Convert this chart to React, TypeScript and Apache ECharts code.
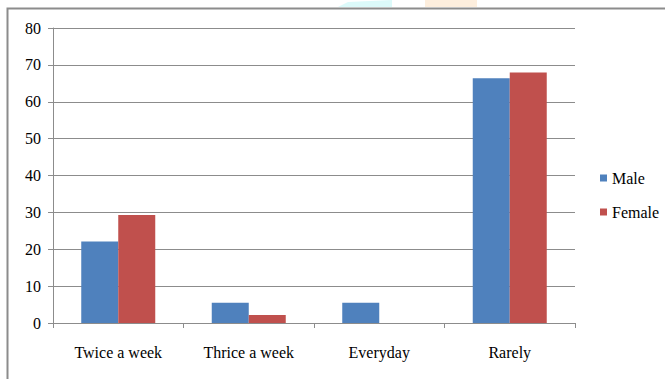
import React, { useEffect, useRef } from "react";
import * as echarts from "echarts";

const categories = ["Twice a week", "Thrice a week", "Everyday", "Rarely"];
const maleValues = [22.1, 5.5, 5.5, 66.4];
const femaleValues = [29.3, 2.2, 0, 67.9];
const yTicks = { min: 0, max: 80, interval: 10 };

const FONT = "'Liberation Serif', 'DejaVu Serif', serif";

export default function App() {
  const ref = useRef<HTMLDivElement>(null);

  useEffect(() => {
    if (!ref.current) return;
    const chart = echarts.init(ref.current, undefined, { renderer: "svg" });
    chart.setOption({
      animation: false,
      backgroundColor: "#ffffff",
      textStyle: { fontFamily: FONT },
      graphic: [
        // outer chart frame
        {
          type: "polyline",
          shape: { points: [[7.5, 379], [7.5, 8.5], [665, 8.5]] },
          style: { stroke: "#8c8c8c", lineWidth: 2, fill: "none" },
          silent: true,
        },
        { type: "polygon", shape: { points: [[338, 7], [348, 2], [392, 0], [392, 7]] }, style: { fill: "#dcfafa" }, silent: true },
        { type: "rect", shape: { x: 425, y: 0, width: 52, height: 7 }, style: { fill: "#fdeedd" }, silent: true },
      ],
      grid: { left: 53, right: 90, top: 28, bottom: 56, containLabel: false },
      legend: {
        orient: "vertical",
        left: 595,
        top: 165,
        itemWidth: 7,
        itemHeight: 7,
        itemGap: 18,
        icon: "rect",
        textStyle: { fontFamily: FONT, fontSize: 16, color: "#000" },
        data: ["Male", "Female"],
      },
      xAxis: {
        type: "category",
        data: categories,
        axisLine: { lineStyle: { color: "#8c8c8c", width: 1 } },
        axisTick: { show: true, length: 5, lineStyle: { color: "#8c8c8c" } },
        axisLabel: { fontFamily: FONT, fontSize: 16, color: "#000", margin: 21, interval: 0 },
      },
      yAxis: {
        type: "value",
        min: yTicks.min,
        max: yTicks.max,
        interval: yTicks.interval,
        axisLine: { show: true, lineStyle: { color: "#8c8c8c", width: 1 } },
        axisTick: { show: true, length: 5, lineStyle: { color: "#8c8c8c" } },
        axisLabel: { fontFamily: FONT, fontSize: 16, color: "#000", margin: 12 },
        splitLine: { lineStyle: { color: "#8c8c8c", width: 1 } },
      },
      series: [
        {
          name: "Male",
          type: "bar",
          data: maleValues,
          barWidth: 37,
          barGap: "0%",
          itemStyle: { color: "#4F81BD" },
        },
        {
          name: "Female",
          type: "bar",
          data: femaleValues,
          barWidth: 37,
          barGap: "0%",
          itemStyle: { color: "#C0504D" },
        },
      ],
    });
    return () => chart.dispose();
  }, []);

  return (
    <div
      ref={ref}
      style={{ position: "fixed", left: 0, top: 0, width: 665, height: 379 }}
    />
  );
}
